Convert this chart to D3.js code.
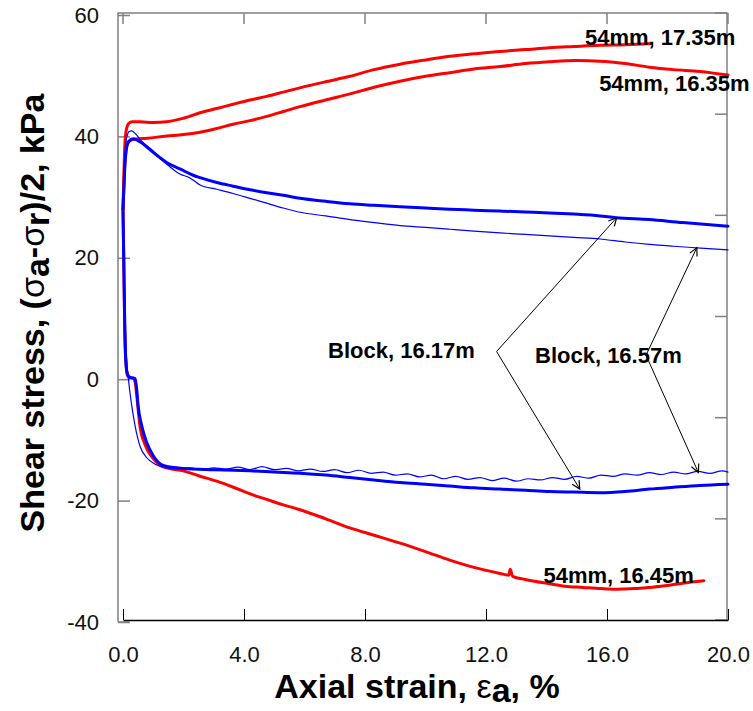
<!DOCTYPE html>
<html>
<head>
<meta charset="utf-8">
<script src="https://cdn.jsdelivr.net/npm/d3@7"></script>
<style>
  html, body { margin: 0; padding: 0; background: #fff; }
  svg { display: block; }
  text { font-family: "Liberation Sans", Arial, Helvetica, sans-serif; }
</style>
</head>
<body>
<svg id="chart" width="753" height="711"></svg>
<script>
// ---------------- DATA ----------------
const xTicks = [0, 4, 8, 12, 16, 20];
const yTicks = [-40, -20, 0, 20, 40, 60];
const rightTicks = [0, 1, 2, 3, 4, 5, 6];

// 54mm, 17.35m (compression)
const red1735X = [0, 0.03, 0.06, 0.1, 0.15, 0.2, 0.3, 0.56, 1.0, 1.44, 2.0, 2.55, 3.1, 3.64, 4.2, 4.75, 5.3, 5.85, 6.7, 7.5, 8.3, 9.16, 10.0, 10.8, 11.6, 12.46, 13.3, 14.1, 14.9, 15.77, 16.6, 17.45];
const red1735Y = [28, 34, 38.5, 40.8, 41.8, 42.2, 42.4, 42.4, 42.3, 42.4, 43.0, 43.9, 44.6, 45.3, 46.0, 46.6, 47.3, 48.0, 49.0, 49.9, 51.0, 51.9, 52.6, 53.2, 53.6, 54.0, 54.3, 54.6, 54.8, 55.0, 55.1, 55.3];

// 54mm, 16.35m (compression)
const red1635X = [0, 0.03, 0.06, 0.1, 0.15, 0.2, 0.34, 0.8, 1.44, 2.0, 2.55, 3.1, 3.64, 4.2, 4.75, 5.3, 5.85, 6.7, 7.5, 8.3, 9.16, 10.0, 10.8, 11.6, 12.46, 13.3, 14.1, 15.0, 15.77, 16.6, 17.4, 18.2, 19.07, 20.0];
const red1635Y = [28, 32, 35.5, 37.8, 38.8, 39.2, 39.5, 39.7, 40.05, 40.3, 40.7, 41.3, 42.0, 42.6, 43.3, 44.1, 44.9, 46.0, 47.0, 48.1, 49.1, 49.9, 50.5, 51.1, 51.5, 52.0, 52.3, 52.5, 52.4, 52.0, 51.4, 51.0, 50.7, 50.1];

// Block, 16.17m (compression, thick)
const blk1617CX = [0, 0.03, 0.06, 0.1, 0.15, 0.22, 0.34, 0.6, 0.9, 1.22, 1.44, 1.9, 2.32, 2.55, 3.1, 3.64, 4.2, 4.75, 5.3, 5.85, 6.7, 7.5, 8.3, 9.16, 10.0, 10.8, 11.6, 12.46, 13.3, 14.1, 14.9, 15.77, 16.3, 17.4, 18.5, 19.3, 20.0];
const blk1617CY = [28, 31.5, 35, 37.5, 38.8, 39.3, 39.6, 39.0, 37.8, 36.5, 35.7, 34.6, 33.6, 33.2, 32.4, 31.8, 31.2, 30.7, 30.3, 29.8, 29.3, 28.9, 28.65, 28.4, 28.2, 28.0, 27.85, 27.7, 27.55, 27.4, 27.2, 26.9, 26.6, 26.3, 25.8, 25.5, 25.2];

// Block, 16.57m (compression, thin)
const blk1657CX = [0, 0.03, 0.06, 0.1, 0.15, 0.2, 0.29, 0.4, 0.6, 0.9, 1.22, 1.5, 1.88, 2.2, 2.32, 2.55, 3.1, 3.64, 4.2, 4.75, 5.3, 5.85, 6.7, 7.5, 8.3, 9.16, 10.0, 10.8, 11.6, 12.46, 13.3, 14.1, 14.9, 15.77, 16.6, 17.4, 18.2, 19.1, 20.0];
const blk1657CY = [28, 33, 37, 39.3, 40.3, 40.8, 40.9, 40.5, 39.3, 38.0, 36.4, 35.2, 33.8, 33.2, 32.8, 32.0, 31.3, 30.6, 29.8, 29.0, 28.2, 27.5, 26.9, 26.3, 25.8, 25.3, 25.0, 24.7, 24.4, 24.1, 23.85, 23.6, 23.35, 23.1, 22.6, 22.2, 21.9, 21.6, 21.3];

// 54mm, 16.45m (extension)
const red1645X = [0, 0.03, 0.06, 0.1, 0.15, 0.2, 0.33, 0.4, 0.45, 0.56, 0.73, 1.0, 1.22, 1.5, 1.99, 2.5, 3.1, 3.65, 4.2, 4.75, 5.3, 5.85, 6.7, 7.5, 8.3, 9.16, 10.0, 10.8, 11.6, 12.46, 12.75, 12.8, 12.88, 13.3, 14.1, 14.6, 15.2, 15.8, 16.3, 16.9, 17.4, 18.0, 18.5, 19.2];
const red1645Y = [28, 18, 8, 2.5, 0.6, 0.3, 0.2, -0.5, -2.5, -7.7, -10.8, -13.1, -14.2, -14.7, -15.1, -15.9, -16.8, -17.8, -18.9, -19.8, -20.7, -21.5, -23.0, -24.5, -25.7, -27.0, -28.4, -29.8, -31.0, -32.0, -32.3, -31.3, -32.5, -33.0, -33.7, -34.1, -34.3, -34.5, -34.6, -34.5, -34.3, -34.0, -33.6, -33.2];

// Block, 16.17m (extension, thick)
const blk1617EX = [0, 0.03, 0.06, 0.1, 0.15, 0.23, 0.4, 0.45, 0.5, 0.62, 0.78, 1.0, 1.33, 1.99, 3.0, 3.65, 4.2, 5.0, 5.85, 6.7, 7.5, 8.3, 9.16, 10.0, 10.8, 11.6, 12.46, 13.3, 14.1, 14.9, 15.77, 16.6, 17.4, 18.2, 19.07, 20.0];
const blk1617EY = [28, 18, 8, 2.5, 0.8, 0.3, 0.1, -1.5, -4.4, -7.7, -10.4, -12.6, -14.2, -14.7, -14.9, -15.0, -15.1, -15.3, -15.5, -15.8, -16.2, -16.6, -17.0, -17.3, -17.6, -17.9, -18.1, -18.3, -18.5, -18.6, -18.7, -18.5, -18.1, -17.8, -17.5, -17.3];

// Block, 16.57m (extension, thin)
const blk1657EX = [0, 0.05, 0.1, 0.18, 0.29, 0.4, 0.56, 0.78, 1.06, 1.44, 1.8, 2.2, 2.6, 3.0, 3.4, 3.8, 4.2, 4.6, 5.0, 5.4, 5.8, 6.2, 6.6, 7.0, 7.4, 7.8, 8.2, 8.6, 9.0, 9.4, 9.8, 10.2, 10.6, 11.0, 11.4, 11.8, 12.2, 12.6, 13.0, 13.4, 13.8, 14.2, 14.6, 15.0, 15.4, 15.8, 16.2, 16.6, 17.0, 17.4, 17.8, 18.2, 18.6, 19.0, 19.4, 19.8, 20.0];
const blk1657EY = [28, 15, 5, 0, -4.4, -7.7, -11.0, -12.9, -14.0, -14.6, -14.8, -14.6, -14.9, -14.6, -14.8, -14.5, -14.9, -14.4, -14.9, -14.7, -15.1, -14.8, -15.2, -14.9, -15.4, -15.0, -15.5, -15.3, -15.8, -15.6, -16.1, -15.8, -16.4, -16.0, -16.5, -16.2, -16.7, -16.3, -16.8, -16.4, -16.6, -16.2, -16.5, -16.0, -16.3, -15.8, -16.0, -15.6, -15.8, -15.4, -15.7, -15.3, -15.6, -15.2, -15.5, -15.1, -15.3];

// annotation texts / anchors (data coords)
const labelTexts = ["54mm, 17.35m", "54mm, 16.35m", "54mm, 16.45m", "Block, 16.17m", "Block, 16.57m"];
const labelX = [15.27, 15.74, 13.9, 6.78, 13.62];
const labelY = [55.1, 47.5, -33.6, 3.57, 2.75];
// arrows: from vertex to target
const arrowFromX = [12.35, 12.35, 17.29, 17.29];
const arrowFromY = [4.56, 4.56, 3.95, 3.95];
const arrowToX = [16.32, 15.1, 18.97, 19.02];
const arrowToY = [26.6, -18.1, 21.68, -15.36];

// ---------------- CHART ----------------
const svg = d3.select("#chart");
const x = d3.scaleLinear().domain([0, 20]).range([123, 728]);
const y = d3.scaleLinear().domain([-40, 60]).range([622, 15]);
const yR = d3.scaleLinear().domain([0, 6]).range([620, 13]);

const gray = "#808080";
const frameL = 118, frameT = 13, frameR = 727, frameB = 622;

// frame (gray)
svg.append("path")
  .attr("d", `M${frameL},${frameB} L${frameL},${frameT} L${frameR},${frameT} L${frameR},620`)
  .attr("fill", "none").attr("stroke", gray).attr("stroke-width", 1.5);
svg.append("line").attr("x1", frameL).attr("x2", 129).attr("y1", frameB).attr("y2", frameB)
  .attr("stroke", gray).attr("stroke-width", 1.5);

// top ticks
svg.append("g").selectAll("line").data(xTicks).join("line")
  .attr("x1", d => x(d)).attr("x2", d => x(d)).attr("y1", frameT).attr("y2", frameT + 11)
  .attr("stroke", gray).attr("stroke-width", 1.5);
// right ticks
svg.append("g").selectAll("line").data(rightTicks).join("line")
  .attr("x1", frameR).attr("x2", frameR - 12).attr("y1", d => yR(d)).attr("y2", d => yR(d))
  .attr("stroke", gray).attr("stroke-width", 1.5);

// bottom axis (black)
const xAxis = d3.axisBottom(x).tickValues(xTicks).tickFormat(d => d.toFixed(1))
  .tickSizeInner(-11).tickSizeOuter(0).tickPadding(26);
const gx = svg.append("g").attr("transform", "translate(0,620)").call(xAxis);
gx.select(".domain").attr("stroke", "#000").attr("stroke-width", 1.5);
gx.selectAll(".tick line").attr("stroke", "#000").attr("stroke-width", 1);
gx.selectAll(".tick text").attr("font-size", 22).attr("fill", "#111")
  .style("font-family", '"Liberation Sans", Arial, sans-serif');

// left axis (gray)
const yAxis = d3.axisLeft(y).tickValues(yTicks).tickFormat(d => String(d))
  .tickSizeInner(-12).tickSizeOuter(0).tickPadding(19);
const gy = svg.append("g").attr("transform", `translate(${frameL},0)`).call(yAxis);
gy.select(".domain").remove();
gy.selectAll(".tick line").attr("stroke", gray).attr("stroke-width", 1.5);
gy.selectAll(".tick text").attr("font-size", 22).attr("fill", "#111")
  .style("font-family", '"Liberation Sans", Arial, sans-serif');

// curves
const line = d3.line().x(d => x(d[0])).y(d => y(d[1])).curve(d3.curveMonotoneX);
const series = [
  { xs: red1645X, ys: red1645Y, color: "#ff0000", w: 3 },
  { xs: blk1657EX, ys: blk1657EY, color: "#0000ff", w: 1.2 },
  { xs: blk1617EX, ys: blk1617EY, color: "#0000ff", w: 3 },
  { xs: red1735X, ys: red1735Y, color: "#ff0000", w: 3 },
  { xs: red1635X, ys: red1635Y, color: "#ff0000", w: 3 },
  { xs: blk1657CX, ys: blk1657CY, color: "#0000ff", w: 1.2 },
  { xs: blk1617CX, ys: blk1617CY, color: "#0000ff", w: 3 }
];
svg.append("g").selectAll("path").data(series).join("path")
  .attr("d", s => line(s.xs.map((v, i) => [v, s.ys[i]])))
  .attr("fill", "none").attr("stroke", s => s.color).attr("stroke-width", s => s.w)
  .attr("stroke-linejoin", "round").attr("stroke-linecap", "round");

// arrows
const defs = svg.append("defs");
defs.append("marker").attr("id", "arr").attr("viewBox", "-10 -5 12 10")
  .attr("refX", 0).attr("refY", 0).attr("markerWidth", 12).attr("markerHeight", 10)
  .attr("markerUnits", "userSpaceOnUse").attr("orient", "auto")
  .append("path").attr("d", "M-8,-4 L0,0 L-8,4").attr("fill", "none").attr("stroke", "#000").attr("stroke-width", 1.2);
svg.append("g").selectAll("line").data(arrowFromX).join("line")
  .attr("x1", (d, i) => x(arrowFromX[i])).attr("y1", (d, i) => y(arrowFromY[i]))
  .attr("x2", (d, i) => x(arrowToX[i])).attr("y2", (d, i) => y(arrowToY[i]))
  .attr("stroke", "#000").attr("stroke-width", 1).attr("marker-end", "url(#arr)");

// labels
svg.append("g").selectAll("text").data(labelTexts).join("text")
  .attr("x", (d, i) => x(labelX[i])).attr("y", (d, i) => y(labelY[i]))
  .attr("font-size", 22).attr("font-weight", "bold").attr("fill", "#000")
  .text(d => d);

// axis titles
const xt = svg.append("text").attr("x", 417).attr("y", 698).attr("text-anchor", "middle")
  .attr("font-size", 34).attr("font-weight", "bold").attr("fill", "#000");
xt.append("tspan").text("Axial strain, ");
xt.append("tspan").attr("font-weight", "normal").text("ε");
xt.append("tspan").attr("dy", 4).text("a");
xt.append("tspan").attr("dy", -4).text(", %");

const yt = svg.append("text").attr("transform", "translate(44,313) rotate(-90)")
  .attr("text-anchor", "middle").attr("font-size", 34).attr("font-weight", "bold").attr("fill", "#000");
yt.append("tspan").text("Shear stress, (");
yt.append("tspan").attr("font-weight", "normal").text("σ");
yt.append("tspan").attr("dy", 5).text("a");
yt.append("tspan").attr("dy", -5).text("-");
yt.append("tspan").attr("font-weight", "normal").text("σ");
yt.append("tspan").attr("dy", 5).text("r");
yt.append("tspan").attr("dy", -5).text(")/2, kPa");
</script>
</body>
</html>
